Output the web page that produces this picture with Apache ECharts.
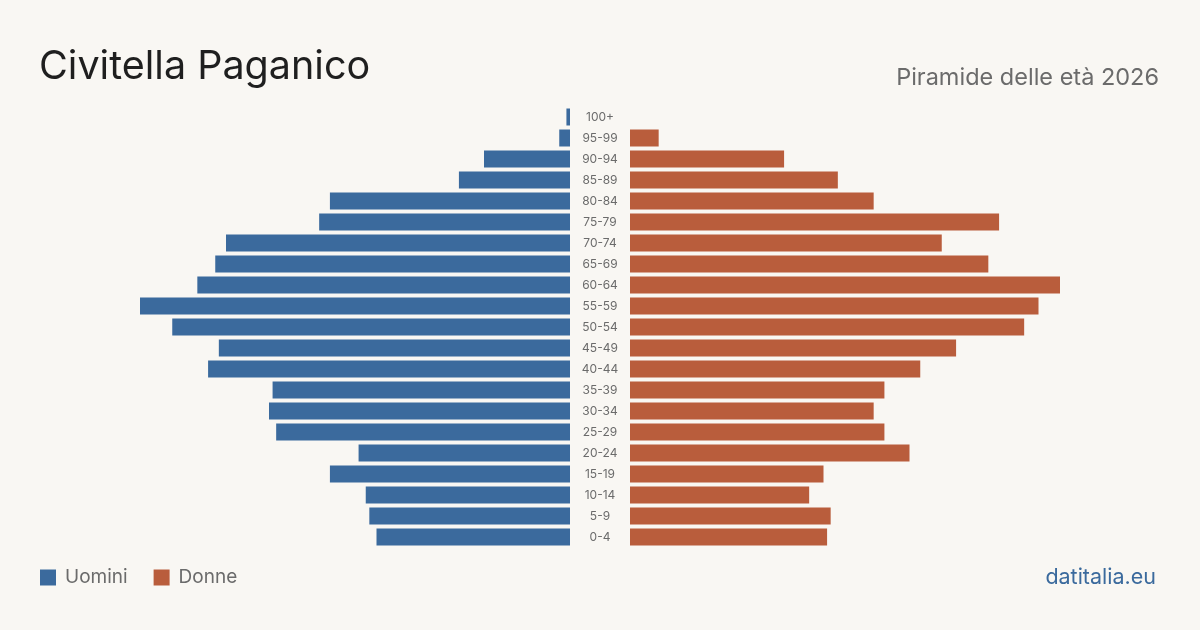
<!DOCTYPE html>
<html><head><meta charset="utf-8">
<script src="https://cdn.jsdelivr.net/npm/echarts@6/dist/echarts.min.js"></script>
<style>html,body{margin:0;padding:0;background:#f9f7f3;}#c{width:1200px;height:630px;}</style>
</head><body><div id="c"></div>
<script>
const ageGroups = ['0-4','5-9','10-14','15-19','20-24','25-29','30-34','35-39','40-44','45-49','50-54','55-59','60-64','65-69','70-74','75-79','80-84','85-89','90-94','95-99','100+'];
const men   = [54,56,57,67,59,82,84,83,101,98,111,120,104,99,96,70,67,31,24,3,1];
const women = [55,56,50,54,78,71,68,71,81,91,110,114,120,100,87,103,68,58,43,8,0];
const axisMax = 120;
const blue = '#3b6a9d', orange = '#b95d3c';
const font = 'Inter, "Noto Sans", sans-serif';

const chart = echarts.init(document.getElementById('c'));
chart.setOption({
  backgroundColor: '#f9f7f3',
  animation: false,
  title: [
    {text: 'Civitella Paganico', left: 39, top: 47, padding: 0, textStyle: {fontFamily: font, fontSize: 39.5, fontWeight: 'normal', color: '#1f1f1f'}},
    {text: 'Piramide delle età 2026', right: 41, top: 66, padding: 0, textStyle: {fontFamily: font, fontSize: 23.5, fontWeight: 'normal', color: '#6b6b6b'}},
    {text: 'datitalia.eu', right: 44, top: 567, padding: 0, textStyle: {fontFamily: font, fontSize: 21.5, fontWeight: 'normal', color: '#3b6a9d'}}
  ],
  legend: {
    left: 40, top: 568, padding: 0, icon: 'rect', itemWidth: 16, itemHeight: 16, itemGap: 26,
    textStyle: {fontFamily: font, fontSize: 19, color: '#6b6b6b', padding: [0,0,0,4]},
    data: ['Uomini','Donne']
  },
  grid: [
    {left: 140, width: 430, top: 106.5, height: 441},
    {left: 630, width: 430, top: 106.5, height: 441}
  ],
  xAxis: [
    {gridIndex: 0, type: 'value', min: 0, max: axisMax, inverse: true, show: false},
    {gridIndex: 1, type: 'value', min: 0, max: axisMax, show: false}
  ],
  yAxis: [
    {gridIndex: 0, type: 'category', data: ageGroups, show: false},
    {gridIndex: 1, type: 'category', data: ageGroups, position: 'left',
     axisLine: {show: false}, axisTick: {show: false},
     axisLabel: {align: 'center', margin: 30, fontFamily: font, fontSize: 12, color: '#6b6b6b'}}
  ],
  series: [
    {name: 'Uomini', type: 'bar', xAxisIndex: 0, yAxisIndex: 0, data: men, barWidth: 17, itemStyle: {color: blue}},
    {name: 'Donne', type: 'bar', xAxisIndex: 1, yAxisIndex: 1, data: women, barWidth: 17, itemStyle: {color: orange}}
  ]
});
</script></body></html>
